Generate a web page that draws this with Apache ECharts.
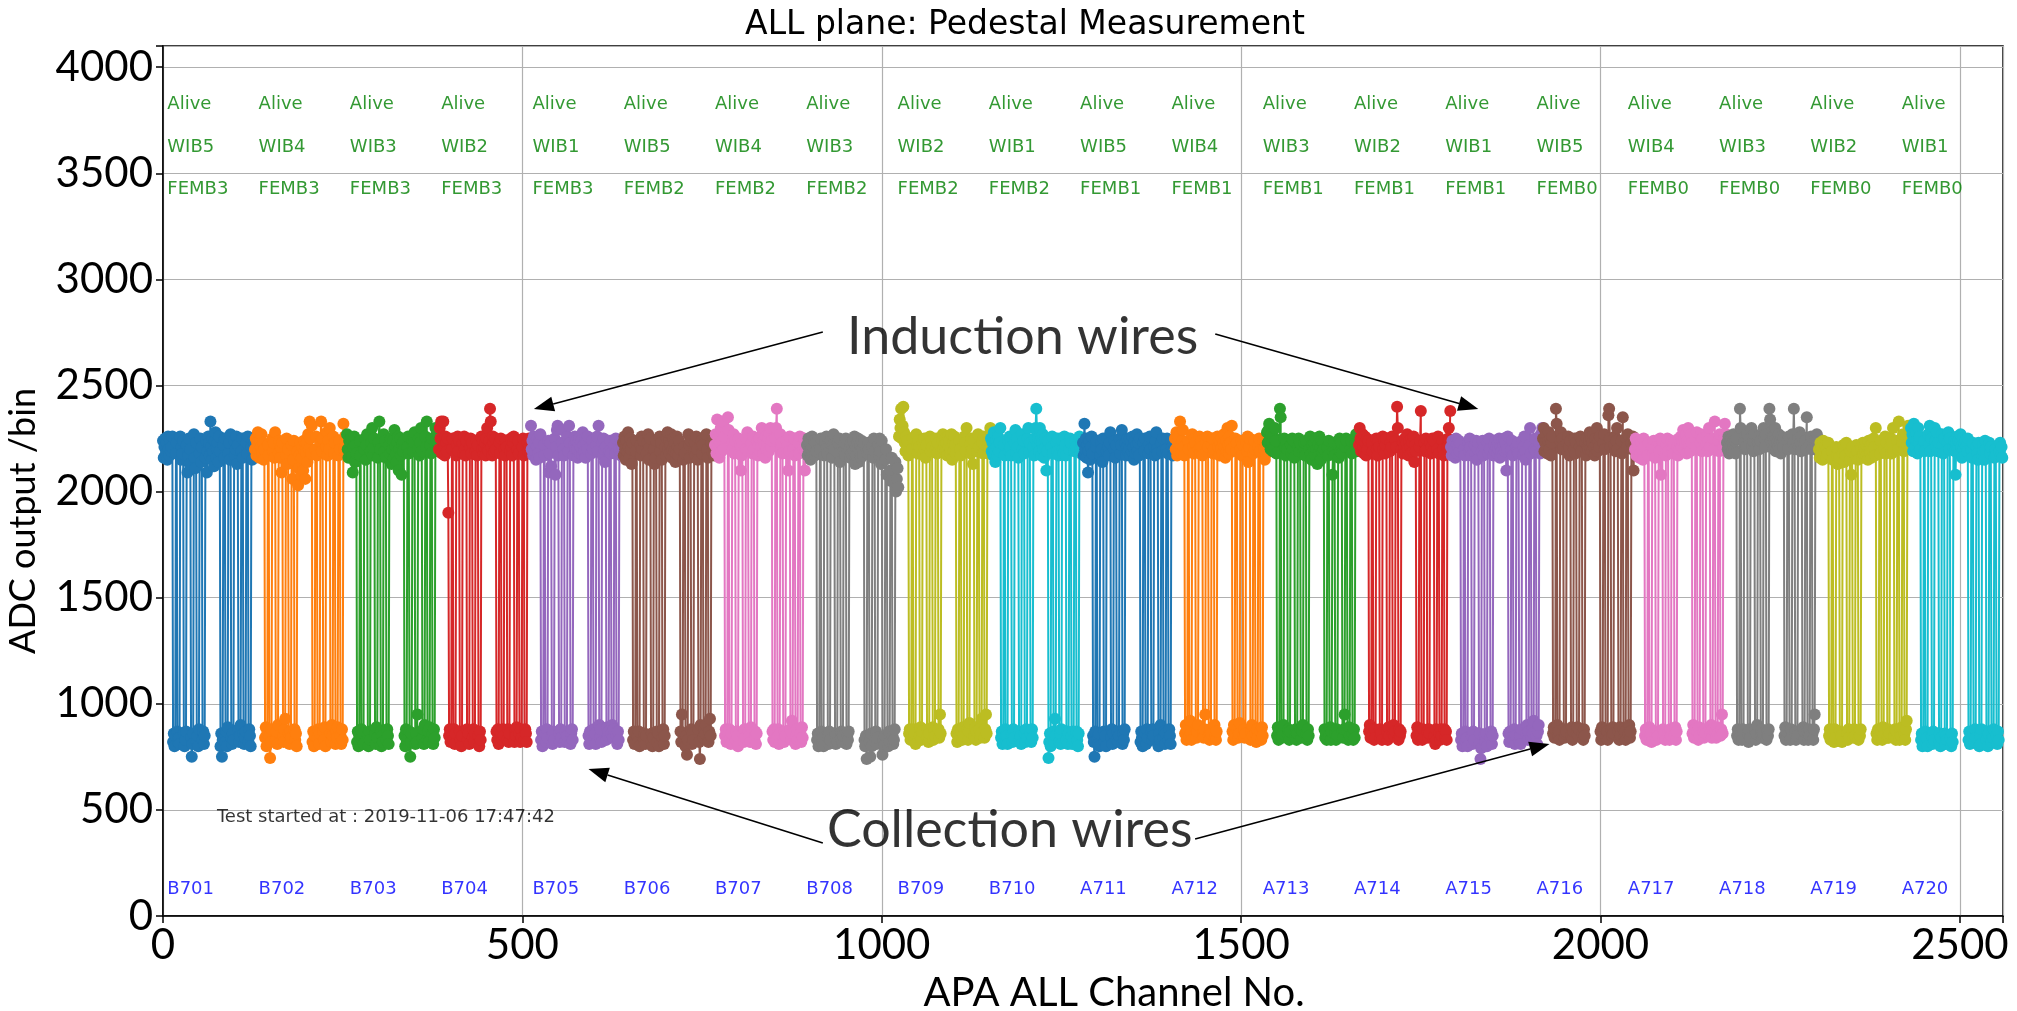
<!DOCTYPE html>
<html>
<head>
<meta charset="utf-8">
<script src="https://cdn.jsdelivr.net/npm/echarts@6/dist/echarts.min.js"></script>
<style>
  html, body { margin: 0; padding: 0; background: #ffffff; }
  #chart { width: 2017px; height: 1011px; }
</style>
</head>
<body>
<div id="chart"></div>
<script>
// ---- Front-end board labels (one per 128-channel FEMB, in APA channel order) ----
const apaLabels  = ['B701','B702','B703','B704','B705','B706','B707','B708','B709','B710',
                    'A711','A712','A713','A714','A715','A716','A717','A718','A719','A720'];
const wibLabels  = ['WIB5','WIB4','WIB3','WIB2','WIB1','WIB5','WIB4','WIB3','WIB2','WIB1',
                    'WIB5','WIB4','WIB3','WIB2','WIB1','WIB5','WIB4','WIB3','WIB2','WIB1'];
const fembLabels = ['FEMB3','FEMB3','FEMB3','FEMB3','FEMB3','FEMB2','FEMB2','FEMB2','FEMB2','FEMB2',
                    'FEMB1','FEMB1','FEMB1','FEMB1','FEMB1','FEMB0','FEMB0','FEMB0','FEMB0','FEMB0'];
const statusLabels = ['Alive','Alive','Alive','Alive','Alive','Alive','Alive','Alive','Alive','Alive',
                      'Alive','Alive','Alive','Alive','Alive','Alive','Alive','Alive','Alive','Alive'];
const xTicks = [0, 500, 1000, 1500, 2000, 2500];
const yTicks = [0, 500, 1000, 1500, 2000, 2500, 3000, 3500, 4000];
const testStart = 'Test started at : 2019-11-06 17:47:42';

// ---- Pedestal (ADC) per channel, 128 channels per FEMB, one row per FE ASIC ----
const pedB701 = [
  2240,2160,2210,2250,2180,2230,2150,2260,2200,2170,2240,2190,2210,2260,820,860,
  800,850,2180,2230,870,820,840,810,2260,2150,2210,2180,2240,860,800,830,
  870,2220,2090,2170,2250,2130,2200,840,750,810,860,2270,2160,2110,2230,820,
  850,800,880,2180,2250,2140,2210,830,870,810,850,2160,2240,2090,2190,2260,
  2230,2170,2330,2210,2150,2250,2190,2120,2240,2280,2160,2200,2230,2140,2260,2190,
  800,860,750,830,2220,2160,2250,820,870,800,890,2180,2230,2150,2270,840,
  810,860,830,2240,2170,2200,2260,2130,2220,880,820,850,900,2190,2250,2160,
  860,810,840,870,2230,2180,2260,820,880,850,800,2210,2150,2240,2190,2230];
const pedB702 = [
  2200,2250,2170,2230,2280,2190,2160,2240,2210,2270,2180,2230,2150,2200,840,890,
  800,860,2220,2170,850,745,820,880,2250,2190,2230,2160,2280,830,870,810,
  900,2180,2240,2160,2210,2090,2230,850,820,880,930,2170,2250,2130,2200,860,
  810,870,840,2220,2060,2150,2240,880,830,860,800,2190,2030,2110,2170,2230,
  2080,2160,2210,2100,2240,2190,2060,2180,2230,2140,2270,2200,2330,2250,2180,2310,
  820,870,800,850,2200,2260,2170,840,880,810,860,2230,2330,2190,2250,870,
  830,890,800,2210,2280,2170,2240,2200,2300,860,820,900,850,2260,2180,2230,
  810,870,840,890,2170,2240,2200,850,810,880,830,2320,2200,2260,2190,2230];
const pedB703 = [
  2270,2200,2160,2240,2190,2230,2250,2170,2090,2210,2260,2140,2220,2180,820,870,
  800,850,2240,2170,880,830,860,810,2200,2250,2150,2220,2270,850,800,870,
  830,2190,2230,2300,2170,2210,2250,860,810,890,840,2160,2230,2330,2200,870,
  800,850,820,2270,2190,2240,2160,830,880,850,810,2220,2180,2250,2130,2200,
  2240,2160,2290,2210,2180,2140,2230,2260,2100,2200,2250,2170,2080,2220,2190,2240,
  850,800,880,830,2210,2260,2180,870,750,820,860,2240,2190,2230,2280,810,
  860,820,950,2200,2250,2170,2230,2300,2190,840,880,810,900,2260,2210,2330,
  830,870,820,890,2220,2180,2250,860,810,880,840,2300,2240,2270,2190,2230];
const pedB704 = [
  2200,2300,2250,2330,2180,2240,2330,2210,2170,2260,2230,2190,2250,1900,850,880,
  820,870,2200,2250,830,880,810,860,2170,2220,2260,2190,2240,870,830,800,
  850,2230,2180,2260,2200,2170,2240,880,830,860,810,2210,2250,2180,2230,840,
  880,820,860,2190,2240,2170,2220,850,800,870,830,2260,2200,2240,2180,2210,
  2230,2170,2250,2300,2200,2190,2240,2390,2330,2210,2170,2260,2230,2190,2250,2200,
  870,830,880,810,2230,2180,2250,860,830,880,850,2200,2170,2240,2210,830,
  880,820,860,2190,2250,2210,2170,2230,2260,820,870,850,890,2200,2240,2180,
  860,820,880,840,2210,2250,2170,830,880,860,820,2230,2190,2250,2210,2180];
const pedB705 = [
  2310,2200,2240,2170,2260,2190,2230,2150,2210,2250,2180,2230,2160,2270,830,870,
  800,850,2220,2170,860,820,880,840,2240,2090,2180,2230,2120,850,810,870,
  830,2250,2080,2210,2290,2310,2170,860,820,880,840,2230,2290,2200,2170,820,
  870,830,850,2260,2190,2310,2230,810,860,880,830,2170,2220,2260,2200,2240,
  2200,2160,2230,2250,2180,2210,2240,2170,2280,2220,2190,2250,2160,2230,2200,2260,
  850,810,870,830,2180,2240,2200,880,840,860,810,2220,2260,2190,2310,900,
  840,880,820,2230,2170,2250,2200,2140,2210,830,890,850,870,2190,2240,2180,
  860,900,840,880,2220,2180,2250,850,810,870,830,2200,2240,2170,2230,2210];
const pedB706 = [
  2230,2170,2260,2200,2150,2240,2190,2280,2210,2160,2250,2200,2130,2230,830,870,
  810,860,2190,2240,850,820,870,800,2220,2170,2260,2200,2240,830,860,810,
  850,2180,2230,2270,2150,2210,2250,820,860,800,840,2200,2130,2160,2240,870,
  820,860,800,2260,2190,2230,2150,840,880,810,850,2210,2170,2250,2280,2200,
  2240,2180,2220,2270,2160,2200,2250,2190,2230,2140,2180,2260,2210,2170,2240,2200,
  870,820,950,860,2150,2210,2180,800,850,760,830,2270,2220,2160,2240,880,
  810,860,830,2190,2230,2170,2260,2200,2150,880,820,740,900,2240,2180,2220,
  840,880,860,900,2270,2200,2160,820,870,930,850,2230,2190,2260,2210,2170];
const pedB707 = [
  2220,2270,2180,2340,2210,2250,2160,2230,2300,2190,2240,2330,2200,2260,850,880,
  820,870,2350,2290,880,840,810,860,2230,2200,2270,2180,2240,830,870,850,
  800,2250,2180,2220,2100,2170,2230,860,820,880,840,2200,2250,2280,2190,870,
  850,820,890,2230,2180,2260,2200,830,870,810,860,2240,2170,2220,2250,2190,
  2210,2300,2270,2180,2240,2220,2160,2260,2200,2230,2250,2190,2270,2300,2210,2240,
  870,830,880,820,2250,2300,2390,840,880,810,860,2270,2200,2230,2180,830,
  820,870,850,2240,2180,2220,2100,2190,2260,880,830,920,860,2200,2250,2170,
  810,850,880,830,2230,2180,2260,860,820,890,840,2200,2250,2100,2190,2230];
const pedB708 = [
  2220,2170,2250,2190,2230,2150,2200,2260,2180,2210,2240,2170,2230,2190,830,860,
  800,850,2200,2250,870,820,840,800,2170,2230,2200,2260,2180,850,810,870,
  830,2240,2190,2160,2220,2270,2200,860,810,850,820,2230,2180,2250,2140,840,
  870,820,850,2190,2230,2170,2250,810,850,830,870,2200,2160,2230,2180,2210,
  2240,2190,2260,2130,2210,2170,2230,2250,2140,2190,2220,2160,2240,2200,2170,2230,
  830,800,850,740,2180,2230,2200,820,750,860,800,2210,2160,2250,2190,830,
  870,810,840,2220,2170,2250,2190,2130,2240,760,830,800,850,2150,2200,2080,
  840,800,870,820,2100,2050,2160,850,810,830,880,2140,2000,2060,2110,2020];
const pedB709 = [
  2260,2340,2300,2390,2250,2310,2400,2280,2230,2190,2260,2210,2240,2170,860,880,
  830,870,2200,2250,880,840,860,810,2270,2220,2180,2240,2210,850,890,830,
  870,2230,2180,2250,2200,2160,2220,840,880,820,860,2260,2190,2240,2210,890,
  830,870,850,2200,2250,2180,2230,880,840,950,860,2190,2240,2270,2200,2220,
  2250,2190,2230,2170,2260,2210,2240,2180,2200,2270,2150,2230,2190,2260,2220,2180,
  860,820,880,840,2240,2200,2170,870,830,890,850,2260,2230,2190,2300,880,
  830,870,910,2220,2180,2250,2200,2130,2240,850,890,830,870,2190,2270,2210,
  880,840,860,930,2230,2180,2260,840,880,950,860,2210,2180,2240,2200,2300];
const pedB710 = [
  2250,2190,2230,2170,2280,2200,2140,2240,2210,2170,2260,2190,2230,2300,840,870,
  810,860,2220,2170,880,830,850,810,2240,2190,2260,2210,2170,860,820,880,
  840,2230,2290,2180,2250,2210,2160,870,830,850,810,2270,2200,2240,2180,860,
  820,880,840,2250,2300,2190,2230,860,820,880,840,2210,2170,2250,2300,2390,
  2280,2220,2250,2190,2300,2240,2170,2230,2270,2200,2160,2250,2210,2100,2190,2240,
  745,820,860,800,2210,2260,2180,870,820,930,850,2230,2190,2250,2170,820,
  860,810,880,2240,2200,2180,2260,2220,2170,830,870,810,860,2200,2250,2230,
  850,810,870,830,2190,2240,2210,870,830,800,860,2260,2200,2180,2230,2250];
const pedA711 = [
  2230,2170,2320,2200,2250,2160,2220,2090,2190,2240,2150,2210,2260,2180,850,820,
  750,870,2210,2240,830,810,860,800,2170,2230,2200,2140,2250,870,820,850,
  800,2190,2250,2210,2170,2230,2280,840,880,810,860,2200,2240,2160,2220,830,
  870,820,850,2250,2180,2220,2290,810,860,830,880,2230,2170,2210,2250,2190,
  2200,2250,2170,2230,2190,2260,2210,2150,2240,2180,2220,2270,2190,2230,2170,2250,
  820,870,840,800,2230,2190,2250,860,810,880,840,2180,2220,2260,2200,870,
  830,880,850,2210,2170,2240,2280,2200,2180,800,860,830,900,2230,2190,2250,
  840,870,810,860,2200,2250,2180,830,880,850,810,2240,2210,2170,2230,2200];
const pedA712 = [
  2250,2200,2280,2170,2230,2260,2190,2330,2220,2180,2240,2290,2210,2170,860,900,
  830,880,2240,2200,850,920,860,830,2270,2210,2180,2250,2230,880,840,870,
  900,2200,2260,2180,2240,2210,2170,860,840,880,950,2230,2190,2260,2210,850,
  830,880,860,2220,2250,2180,2200,900,850,830,870,2260,2210,2240,2170,2230,
  2200,2250,2180,2230,2270,2210,2160,2240,2190,2300,2220,2180,2260,2230,2200,2310,
  870,830,900,850,2250,2190,2230,880,840,860,910,2200,2240,2170,2220,850,
  880,840,860,2230,2190,2260,2140,2210,2250,830,870,900,850,2180,2240,2200,
  860,820,880,840,2210,2250,2190,870,830,890,850,2240,2200,2150,2230,2180];
const pedA713 = [
  2280,2230,2290,2320,2250,2200,2270,2230,2190,2260,2210,2300,2240,2180,850,890,
  830,870,2390,2350,880,840,860,900,2250,2210,2170,2230,2200,850,880,830,
  870,2220,2180,2250,2200,2240,2160,840,880,830,860,2210,2250,2190,2230,880,
  840,870,900,2190,2230,2170,2240,860,830,880,850,2200,2260,2180,2150,2220,
  2240,2190,2230,2170,2250,2200,2130,2220,2180,2260,2210,2150,2240,2190,2230,2200,
  880,840,860,830,2210,2170,2240,850,890,830,870,2080,2190,2230,2170,860,
  830,880,850,2220,2160,2250,2190,2230,2180,870,840,880,950,2210,2250,2240,
  870,830,890,850,2200,2240,2180,860,830,880,840,2230,2270,2190,2210,2240];
const pedA714 = [
  2220,2300,2250,2190,2240,2270,2210,2180,2260,2230,2170,2250,2200,2240,870,900,
  840,880,2230,2190,860,830,880,840,2250,2200,2170,2240,2210,880,840,860,
  830,2260,2200,2240,2180,2220,2250,870,830,890,850,2190,2230,2210,2260,860,
  900,850,870,2240,2210,2400,2300,830,880,850,870,2200,2240,2180,2230,2210,
  2250,2190,2230,2270,2200,2170,2240,2210,2180,2250,2230,2190,2260,2140,2220,2190,
  850,890,830,870,2210,2240,2380,860,830,880,840,2230,2190,2250,2200,870,
  840,880,860,2230,2180,2210,2250,2190,2240,850,810,880,830,2200,2260,2180,
  860,830,880,850,2240,2200,2170,880,840,870,830,2210,2250,2300,2240,2380];
const pedA715 = [
  2210,2170,2240,2190,2230,2200,2160,2250,2220,2180,2210,2240,2190,2230,830,860,
  800,850,2200,2170,870,820,840,800,2230,2190,2250,2210,2170,850,810,870,
  830,2220,2180,2240,2150,2200,2230,810,860,740,790,2190,2240,2170,2210,850,
  820,860,800,2230,2180,2250,2200,840,870,810,850,2170,2220,2190,2240,2210,
  2180,2230,2200,2250,2160,2210,2190,2240,2170,2220,2250,2190,2230,2100,2200,2260,
  860,820,870,840,2200,2240,2170,830,880,810,850,2210,2190,2230,2180,820,
  850,810,880,2240,2170,2210,2260,2190,2150,860,900,830,870,2220,2300,2180,
  840,880,860,920,2200,2250,2190,850,810,870,900,2230,2180,2270,2240,2300];
const pedA716 = [
  2250,2300,2190,2230,2270,2210,2180,2240,2280,2200,2250,2170,2230,2260,860,890,
  840,880,2390,2320,900,850,870,830,2240,2280,2200,2250,2210,880,840,860,
  870,2230,2190,2260,2210,2170,2240,850,890,830,870,2200,2250,2180,2230,860,
  890,850,880,2210,2260,2190,2240,860,830,880,850,2230,2170,2250,2210,2200,
  2240,2280,2200,2250,2190,2230,2270,2210,2170,2250,2220,2300,2190,2240,2210,2260,
  870,830,890,850,2230,2270,2200,880,840,870,830,2360,2390,2250,2210,880,
  850,890,860,2220,2260,2190,2240,2300,2200,870,830,890,850,2240,2180,2350,
  880,840,870,830,2250,2210,2270,860,900,840,870,2230,2200,2260,2100,2240];
const pedA717 = [
  2200,2250,2170,2230,2190,2210,2160,2240,2180,2230,2200,2150,2250,2210,850,880,
  830,870,2170,2230,890,840,860,820,2210,2180,2240,2200,2160,870,830,860,
  850,2230,2190,2250,2080,2200,2240,880,840,860,830,2170,2220,2250,2190,870,
  830,880,850,2240,2200,2180,2230,850,890,830,870,2210,2170,2250,2200,2230,
  2260,2210,2240,2290,2200,2250,2230,2270,2180,2240,2300,2220,2250,2190,2270,2230,
  860,900,840,880,2250,2210,2280,870,830,890,850,2230,2270,2190,2250,870,
  840,880,860,2220,2260,2190,2240,2300,2210,860,900,840,880,2250,2200,2330,
  870,840,890,860,2240,2190,2270,850,880,950,860,2210,2250,2320,2230,2270];
const pedA718 = [
  2230,2200,2260,2180,2240,2210,2250,2190,2230,2270,2200,2240,2180,2250,850,880,
  830,870,2390,2300,860,830,880,840,2240,2200,2260,2210,2270,860,820,880,
  840,2250,2300,2210,2240,2190,2270,870,830,860,900,2230,2260,2200,2240,850,
  880,840,860,2300,2250,2210,2270,830,870,850,880,2390,2340,2240,2280,2220,
  2260,2200,2240,2300,2190,2250,2230,2210,2270,2200,2240,2180,2260,2230,2210,2250,
  850,890,830,870,2240,2200,2260,860,830,880,840,2270,2230,2390,2200,870,
  830,870,850,2250,2210,2280,2230,2190,2260,850,890,830,870,2240,2200,2350,
  870,830,880,850,2230,2260,2200,860,830,880,950,2250,2210,2270,2230,2190];
const pedA719 = [
  2200,2160,2230,2180,2210,2150,2240,2190,2170,2220,2160,2200,2180,2230,850,880,
  830,870,2190,2150,860,820,880,840,2210,2170,2130,2200,2160,870,830,850,
  820,2180,2220,2140,2200,2170,2230,860,830,880,840,2150,2190,2080,2210,870,
  840,880,850,2170,2220,2190,2150,830,870,850,880,2200,2160,2230,2180,2210,
  2190,2230,2170,2210,2150,2240,2200,2180,2220,2160,2230,2190,2250,2210,2170,2300,
  860,830,880,840,2220,2180,2240,870,830,890,850,2200,2260,2180,2230,840,
  880,840,860,2210,2250,2180,2230,2300,2190,850,880,830,870,2240,2200,2330,
  830,870,850,890,2230,2270,2190,860,830,880,920,2220,2310,2250,2200,2270];
const pedA720 = [
  2300,2230,2270,2190,2320,2250,2210,2280,2240,2180,2300,2230,2260,2200,830,860,
  800,850,2240,2190,870,820,840,800,2270,2220,2310,2190,2250,850,810,870,
  830,2300,2240,2210,2280,2190,2230,820,860,800,840,2270,2220,2180,2250,860,
  810,850,830,2230,2280,2200,2250,840,800,860,820,2210,2240,2190,2080,2230,
  2260,2200,2240,2180,2230,2270,2210,2160,2250,2200,2230,2170,2240,2210,2190,2250,
  830,870,810,850,2200,2160,2230,860,820,880,840,2210,2180,2150,2230,800,
  850,810,880,2170,2220,2190,2150,2240,2200,830,870,800,860,2230,2180,2210,
  820,860,840,880,2160,2200,2170,850,810,870,830,2190,2230,2170,2210,2160];

const pedestals = [pedB701, pedB702, pedB703, pedB704, pedB705, pedB706, pedB707, pedB708, pedB709, pedB710,
                   pedA711, pedA712, pedA713, pedA714, pedA715, pedA716, pedA717, pedA718, pedA719, pedA720];

// ---- callouts: text anchors and arrows [fromX, fromY, toX, toY] in channel / ADC units ----
const calloutText = [
  { value: [1196, 2729], name: 'Induction wires' },
  { value: [1178, 405], name: 'Collection wires' }
];
const calloutArrows = [
  [918, 2752, 516, 2389],
  [1464, 2743, 1830, 2389],
  [918, 344, 592, 693],
  [1436, 363, 1929, 811]
];

const CH_PER_FEMB = 128;
const tab10 = ['#1f77b4','#ff7f0e','#2ca02c','#d62728','#9467bd',
               '#8c564b','#e377c2','#7f7f7f','#bcbd22','#17becf'];

const chart = echarts.init(document.getElementById('chart'), null, { renderer: 'canvas' });

// one coloured line+marker trace per FEMB
const fembSeries = pedestals.map((vals, k) => ({
  type: 'line',
  name: apaLabels[k],
  data: vals.map((v, i) => [k * CH_PER_FEMB + i, v]),
  symbol: 'circle',
  symbolSize: 12,
  showSymbol: true,
  clip: true,
  color: tab10[k % 10],
  lineStyle: { width: 2, color: tab10[k % 10] },
  itemStyle: { color: tab10[k % 10] },
  emphasis: { disabled: true },
  silent: true,
  z: 2 + k * 0.01
}));

// board text rows drawn in data space (text anchors step slightly under one FEMB width)
const ROW_STATUS = 3800, ROW_WIB = 3600, ROW_FEMB = 3400, ROW_APA = 100;
const LABEL_PITCH = 127, LABEL_START = 6;
const boardText = [];
apaLabels.forEach((name, k) => {
  const x0 = LABEL_START + k * LABEL_PITCH;
  boardText.push({ value: [x0, ROW_STATUS], name: statusLabels[k], label: { color: '#008000' } });
  boardText.push({ value: [x0, ROW_WIB], name: wibLabels[k], label: { color: '#008000' } });
  boardText.push({ value: [x0, ROW_FEMB], name: fembLabels[k], label: { color: '#008000' } });
  boardText.push({ value: [x0, ROW_APA], name: name, label: { color: '#0000ff' } });
});
boardText.push({ value: [75, 440], name: testStart, label: { color: '#000000', fontSize: 18 } });

const textSeries = {
  type: 'scatter',
  data: boardText,
  symbolSize: 0.001,
  itemStyle: { color: 'rgba(0,0,0,0)' },
  silent: true,
  z: 5,
  label: {
    show: true,
    formatter: p => p.name,
    position: [0, 0],
    align: 'left',
    verticalAlign: 'bottom',
    fontFamily: 'DejaVu Sans',
    fontSize: 18,
    offset: [0, 4]
  }
};

const calloutTextSeries = {
  type: 'scatter',
  symbolSize: 0.001,
  itemStyle: { color: 'rgba(0,0,0,0)' },
  silent: true,
  z: 6,
  data: calloutText,
  label: {
    show: true,
    position: [0, 0],
    align: 'center',
    verticalAlign: 'middle',
    formatter: p => p.name,
    fontFamily: 'Lato',
    fontSize: 52,
    color: '#000000'
  }
};

// straight arrow with a filled triangular head at the (toX, toY) end
const arrowSeries = {
  type: 'custom',
  silent: true,
  z: 7,
  clip: false,
  data: calloutArrows,
  encode: { x: [0, 2], y: [1, 3] },
  renderItem: (params, api) => {
    const p0 = api.coord([api.value(0), api.value(1)]);
    const p1 = api.coord([api.value(2), api.value(3)]);
    const dx = p1[0] - p0[0], dy = p1[1] - p0[1];
    const len = Math.hypot(dx, dy) || 1;
    const ux = dx / len, uy = dy / len;
    const headL = 20, headW = 7.5;
    const bx = p1[0] - ux * headL, by = p1[1] - uy * headL;
    return {
      type: 'group',
      children: [
        { type: 'line', shape: { x1: p0[0], y1: p0[1], x2: bx, y2: by },
          style: { stroke: '#000000', lineWidth: 1.6 } },
        { type: 'polygon',
          shape: { points: [[p1[0], p1[1]], [bx - uy * headW, by + ux * headW], [bx + uy * headW, by - ux * headW]] },
          style: { fill: '#000000' } }
      ]
    };
  }
};

const tickFont = { fontFamily: 'Lato', fontSize: 42, color: '#000000' };

chart.setOption({
  animation: false,
  backgroundColor: '#ffffff',
  title: {
    text: 'ALL plane: Pedestal Measurement',
    left: 1020,
    textAlign: 'center',
    top: 4,
    textStyle: { fontFamily: 'DejaVu Sans', fontSize: 33, fontWeight: 'normal', color: '#000000' }
  },
  grid: { left: 163, right: 14, top: 46, bottom: 95, show: true, borderColor: '#000000', borderWidth: 1.5, backgroundColor: 'transparent' },
  xAxis: {
    type: 'value',
    min: 0,
    max: 2560,
    interval: 500,
    axisLine: { show: true, onZero: false, lineStyle: { color: '#000000', width: 1.5 } },
    axisTick: { show: true, inside: false, length: 7, lineStyle: { color: '#000000', width: 1.5 } },
    axisLabel: { ...tickFont, margin: 8, formatter: v => (xTicks.includes(v) ? String(v) : '') },
    splitLine: { show: true, lineStyle: { color: '#b0b0b0', width: 1.2 } }
  },
  yAxis: {
    type: 'value',
    min: 0,
    max: 4100,
    interval: 500,
    axisLine: { show: true, onZero: false, lineStyle: { color: '#000000', width: 1.5 } },
    axisTick: { show: true, inside: false, length: 7, lineStyle: { color: '#000000', width: 1.5 } },
    axisLabel: { ...tickFont, margin: 10, formatter: v => (yTicks.includes(v) ? String(v) : '') },
    splitLine: { show: true, lineStyle: { color: '#b0b0b0', width: 1.2 } }
  },
  graphic: [
    {
      type: 'text', x: 23, y: 521, rotation: Math.PI / 2,
      style: { text: 'ADC output /bin', font: '36px Lato', fill: '#000000', align: 'center', verticalAlign: 'middle' }
    },
    {
      type: 'text', x: 1114, y: 993,
      style: { text: 'APA ALL Channel No.', font: '40px Lato', fill: '#000000', align: 'center', verticalAlign: 'middle' }
    }
  ],
  series: [...fembSeries, textSeries, calloutTextSeries, arrowSeries]
});
</script>
</body>
</html>
